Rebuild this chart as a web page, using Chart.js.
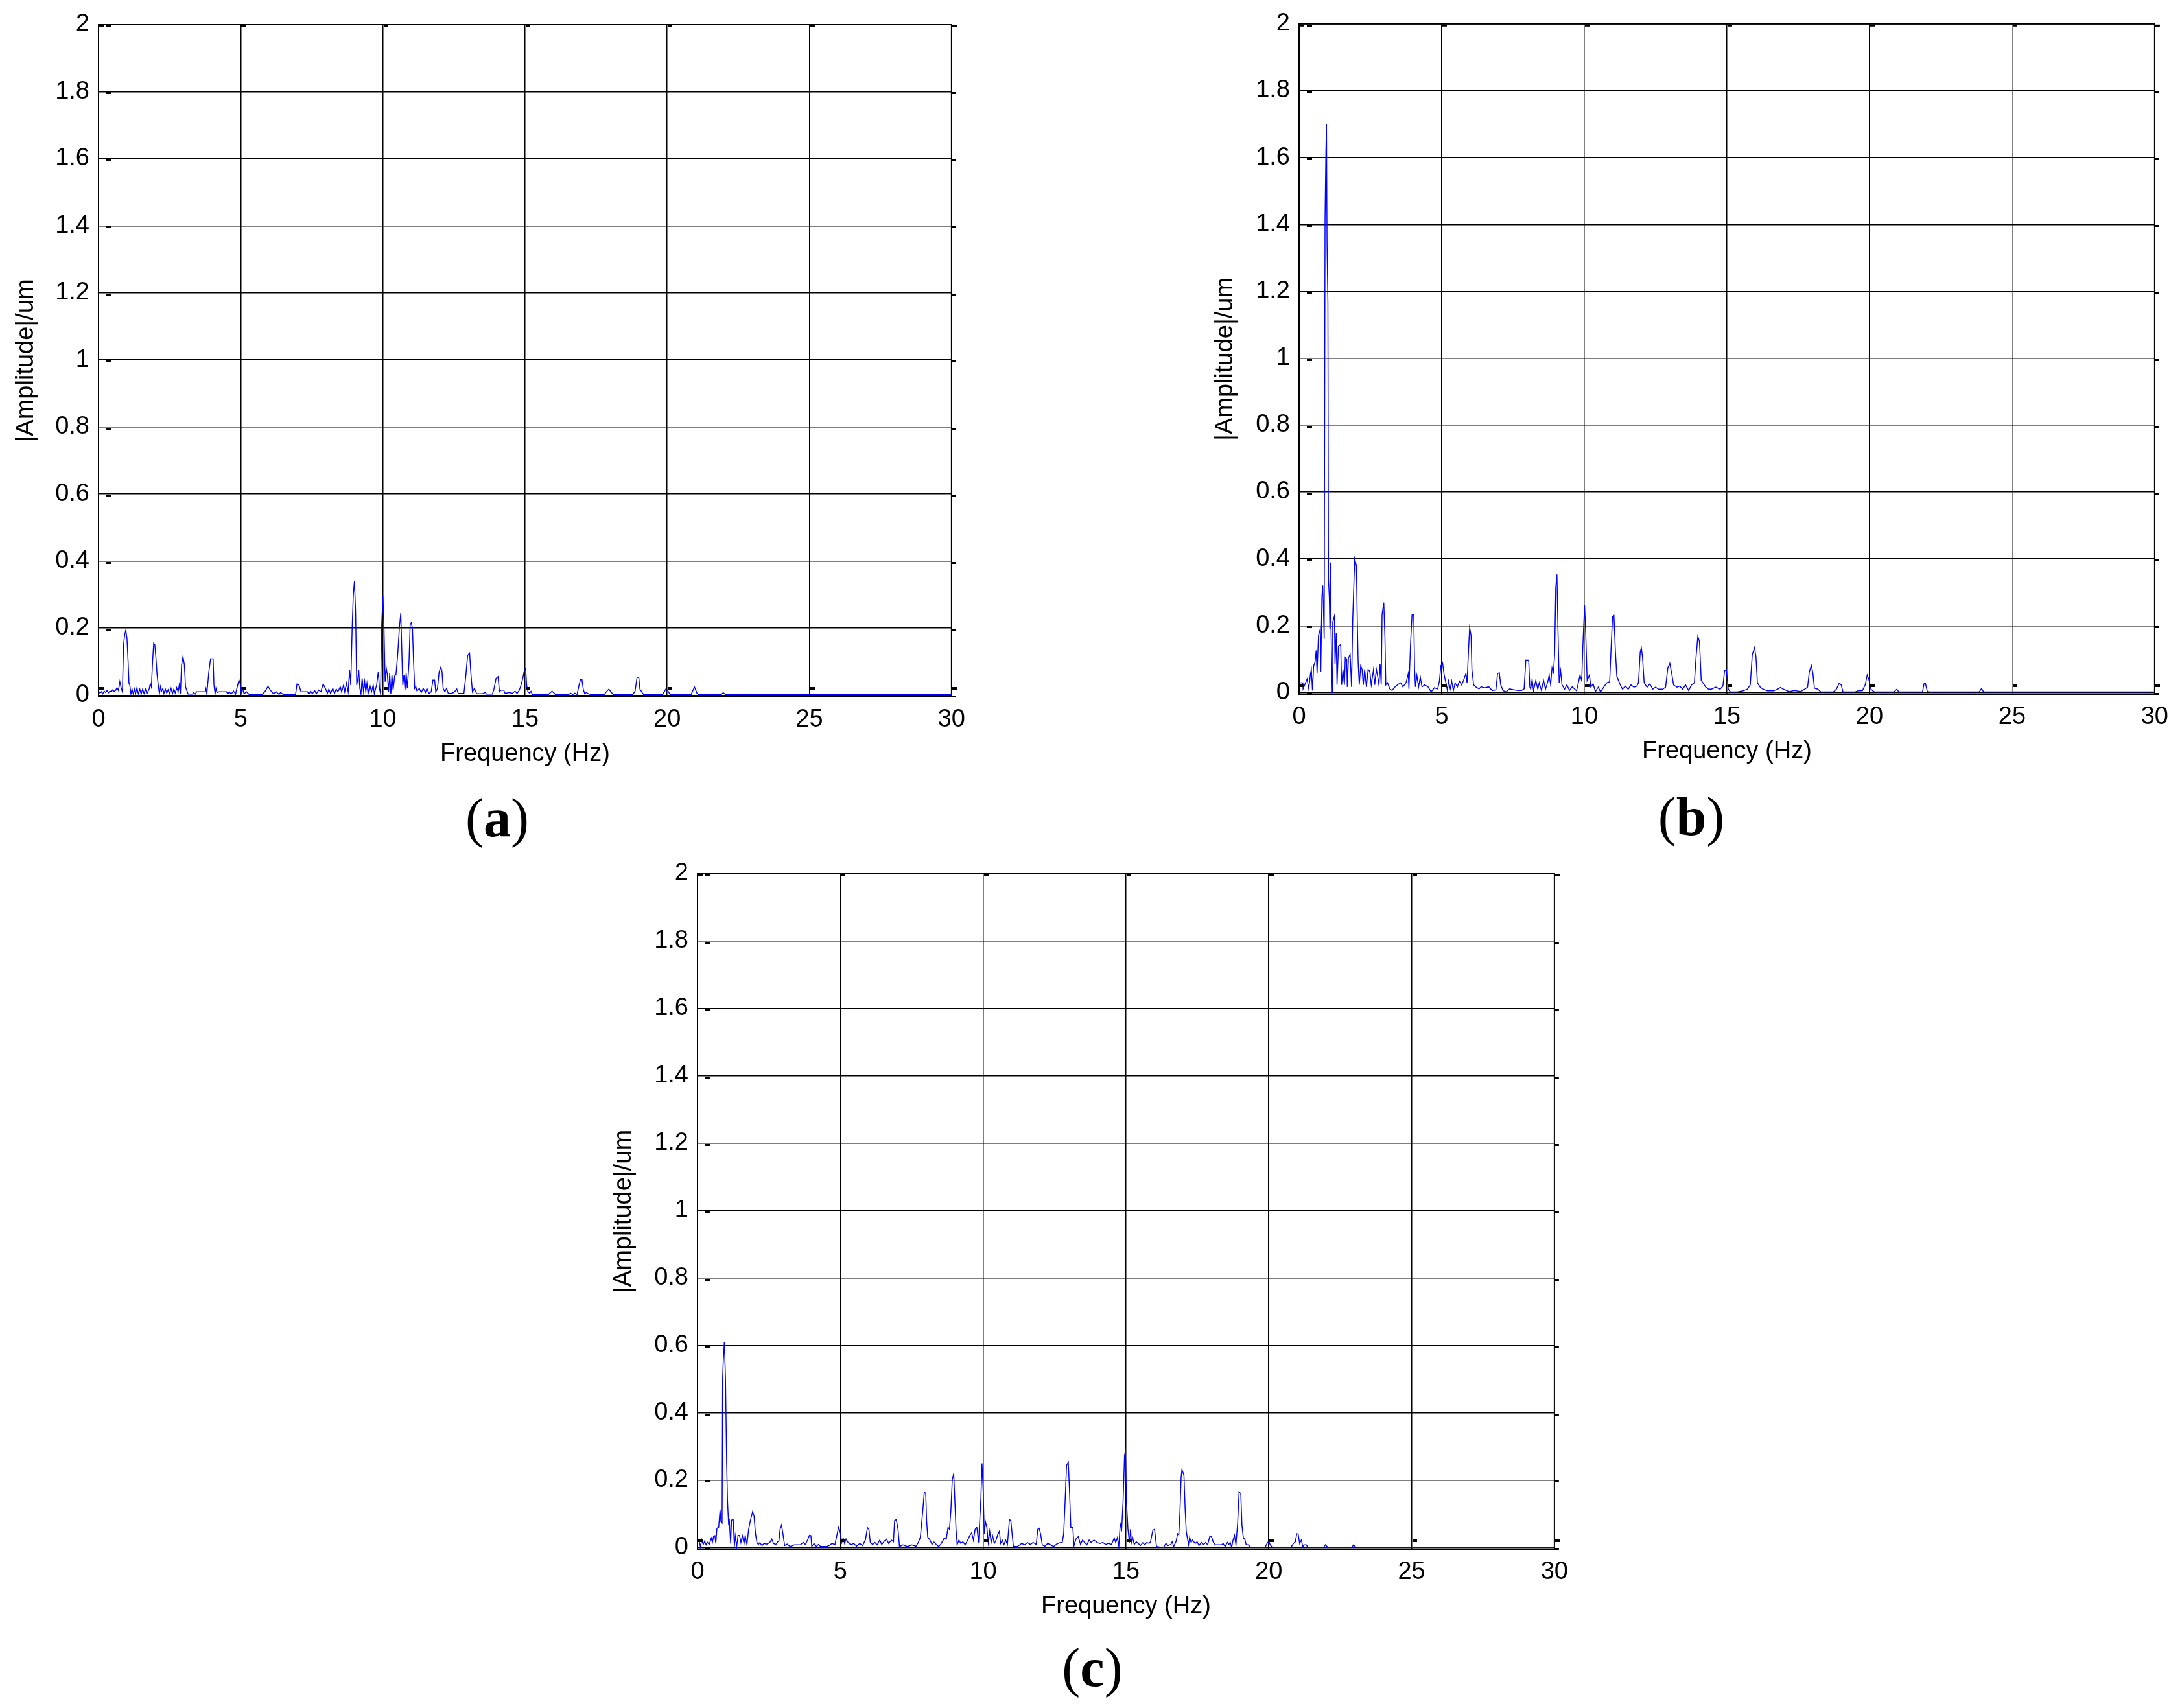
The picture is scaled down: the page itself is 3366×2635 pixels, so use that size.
<!DOCTYPE html>
<html>
<head>
<meta charset="utf-8">
<script src="https://cdn.jsdelivr.net/npm/chart.js@4.4.1/dist/chart.umd.min.js"></script>
<style>
  html, body { margin: 0; padding: 0; background: #fff; }
  body { width: 3366px; height: 2635px; position: relative; overflow: hidden; }
  canvas { position: absolute; }
  .tag { position: absolute; font-family: 'Liberation Serif', 'DejaVu Serif', serif; font-size: 84px; line-height: 1; color: #000; transform: translate(-50%, -50%); white-space: nowrap; }
  .tag b { font-weight: bold; }
</style>
</head>
<body>
<canvas id="chartA" width="1502" height="1215" style="left:0px;top:0px"></canvas>
<canvas id="chartB" width="1506" height="1211" style="left:1852px;top:0px"></canvas>
<canvas id="chartC" width="1508" height="1230" style="left:924px;top:1300px"></canvas>
<div class="tag" style="left:767px;top:1262px">(<b>a</b>)</div>
<div class="tag" style="left:2609px;top:1260px">(<b>b</b>)</div>
<div class="tag" style="left:1685px;top:2573px">(<b>c</b>)</div>
<script>
// axis ticks
var xTicks = [0, 5, 10, 15, 20, 25, 30];
var yTicks = [0, 0.2, 0.4, 0.6, 0.8, 1, 1.2, 1.4, 1.6, 1.8, 2];
var yTickLabels = ['0', '0.2', '0.4', '0.6', '0.8', '1', '1.2', '1.4', '1.6', '1.8', '2'];

// (a) spectrum
var freqA = [0, 0.05, 0.1, 0.15, 0.2, 0.25, 0.3, 0.35, 0.4, 0.45, 0.5, 0.55, 0.6, 0.65, 0.7, 0.75, 0.8, 0.84, 0.88, 0.92,
  0.96, 1, 1.04, 1.07, 1.1, 1.14, 1.18, 1.22, 1.27, 1.3, 1.35, 1.4, 1.45, 1.5, 1.55, 1.6, 1.65, 1.7, 1.78, 1.82,
  1.86, 1.9, 1.94, 1.98, 2.02, 2.06, 2.1, 2.14, 2.18, 2.22, 2.26, 2.3, 2.35, 2.4, 2.45, 2.5, 2.55, 2.6, 2.65, 2.7,
  2.75, 2.8, 2.84, 2.88, 2.92, 2.97, 3.02, 3.06, 3.1, 3.15, 3.3, 3.34, 3.4, 3.45, 3.75, 3.78, 3.81, 3.88, 3.94, 4.03,
  4.06, 4.1, 4.13, 4.17, 4.24, 4.5, 4.55, 4.6, 4.66, 4.75, 4.82, 4.88, 4.94, 4.98, 5.02, 5.06, 5.12, 5.2, 5.3, 5.75,
  5.85, 5.96, 6.05, 6.15, 6.25, 6.35, 6.4, 6.5, 6.93, 6.98, 7.05, 7.12, 7.35, 7.4, 7.46, 7.52, 7.6, 7.66, 7.74, 7.82,
  7.9, 7.98, 8.05, 8.1, 8.16, 8.24, 8.3, 8.36, 8.42, 8.5, 8.55, 8.62, 8.66, 8.72, 8.78, 8.83, 8.87, 8.92, 8.96, 9,
  9.04, 9.08, 9.12, 9.15, 9.19, 9.23, 9.27, 9.32, 9.36, 9.4, 9.44, 9.48, 9.54, 9.6, 9.66, 9.7, 9.78, 9.84, 9.88, 9.92,
  9.96, 10, 10.04, 10.08, 10.12, 10.16, 10.2, 10.24, 10.28, 10.32, 10.36, 10.42, 10.46, 10.52, 10.58, 10.63, 10.67, 10.7, 10.74, 10.78,
  10.82, 10.86, 10.92, 10.96, 11, 11.04, 11.08, 11.12, 11.16, 11.2, 11.28, 11.35, 11.42, 11.5, 11.55, 11.62, 11.7, 11.76, 11.82, 11.86,
  11.92, 11.98, 12.04, 12.08, 12.12, 12.18, 12.24, 12.3, 12.4, 12.5, 12.6, 12.65, 12.85, 12.92, 12.98, 13.05, 13.1, 13.15, 13.22, 13.3,
  13.5, 13.6, 13.65, 13.85, 13.9, 13.98, 14.05, 14.1, 14.15, 14.25, 14.3, 14.45, 14.55, 14.65, 14.72, 14.8, 14.86, 14.92, 14.98, 15.02,
  15.06, 15.1, 15.16, 15.21, 15.26, 15.82, 15.95, 16.07, 16.53, 16.6, 16.68, 16.75, 16.83, 16.9, 16.95, 17, 17.05, 17.1, 17.16, 17.22,
  17.32, 17.79, 17.84, 17.95, 18, 18.1, 18.79, 18.87, 18.94, 19, 19.04, 19.14, 19.17, 19.84, 19.95, 20.03, 20.1, 20.84, 20.96, 21.05,
  21.09, 21.9, 21.97, 22.05, 30];
var ampA = [0.012, 0.006, 0.01, 0.004, 0.012, 0.008, 0.014, 0.007, 0.012, 0.01, 0.016, 0.011, 0.014, 0.022, 0.014, 0.04, 0.02, 0.01, 0.15, 0.18,
  0.194, 0.17, 0.1, 0.035, 0.03, 0.004, 0.018, 0.004, 0.018, 0.003, 0.022, 0.004, 0.018, 0.003, 0.018, 0.005, 0.018, 0.004, 0.018, 0.034,
  0.024, 0.1, 0.155, 0.15, 0.11, 0.06, 0.03, 0.004, 0.025, 0.012, 0.02, 0.005, 0.018, 0.006, 0.016, 0.005, 0.02, 0.004, 0.018, 0.006,
  0.022, 0.01, 0.03, 0.004, 0.09, 0.115, 0.09, 0.025, 0.015, 0.003, 0.003, 0.008, 0.003, 0.01, 0.01, 0.02, 0.004, 0.07, 0.108, 0.108,
  0.03, 0.004, 0.02, 0.008, 0.01, 0.01, 0.004, 0.01, 0.003, 0.012, 0.003, 0.025, 0.045, 0.035, 0.008, 0.02, 0.004, 0.01, 0.002, 0.002,
  0.01, 0.026, 0.014, 0.004, 0.01, 0.002, 0.008, 0.002, 0.002, 0.033, 0.03, 0.01, 0.01, 0.003, 0.012, 0.004, 0.014, 0.004, 0.015, 0.01,
  0.033, 0.02, 0.005, 0.018, 0.005, 0.02, 0.005, 0.018, 0.01, 0.025, 0.01, 0.03, 0.01, 0.035, 0.01, 0.075, 0.03, 0.2, 0.3, 0.34,
  0.25, 0.03, 0.05, 0.075, 0.02, 0.004, 0.05, 0.01, 0.04, 0.01, 0.035, 0.004, 0.03, 0.01, 0.03, 0.004, 0.03, 0.07, 0.02, 0.004,
  0.21, 0.295, 0.2, 0.04, 0.08, 0.06, 0.01, 0.065, 0.004, 0.06, 0.015, 0.06, 0.06, 0.12, 0.2, 0.245, 0.12, 0.03, 0.06, 0.015,
  0.065, 0.02, 0.1, 0.21, 0.216, 0.2, 0.1, 0.02, 0.025, 0.012, 0.02, 0.008, 0.02, 0.008, 0.02, 0.005, 0.01, 0.045, 0.045, 0.01,
  0.02, 0.07, 0.084, 0.07, 0.02, 0.01, 0.02, 0.005, 0.005, 0.008, 0.018, 0.005, 0.005, 0.06, 0.118, 0.125, 0.06, 0.01, 0.02, 0.004,
  0.004, 0.008, 0.003, 0.003, 0.015, 0.05, 0.055, 0.01, 0.015, 0.015, 0.005, 0.008, 0.005, 0.012, 0.005, 0.015, 0.03, 0.05, 0.075, 0.08,
  0.027, 0.011, 0.006, 0.011, 0.002, 0.002, 0.012, 0.002, 0.002, 0.006, 0.002, 0.006, 0.002, 0.03, 0.047, 0.047, 0.017, 0.004, 0.008, 0.004,
  0.002, 0.002, 0.008, 0.018, 0.012, 0.002, 0.002, 0.012, 0.053, 0.053, 0.018, 0.005, 0.002, 0.002, 0.018, 0.012, 0.002, 0.002, 0.024, 0.005,
  0.002, 0.002, 0.007, 0.002, 0.002];

// (b) spectrum
var freqB = [0, 0.13, 0.14, 0.28, 0.34, 0.4, 0.43, 0.47, 0.51, 0.56, 0.6, 0.63, 0.68, 0.74, 0.76, 0.8, 0.83, 0.86, 0.88, 0.91,
  0.94, 0.96, 0.98, 1.01, 1.03, 1.06, 1.08, 1.1, 1.12, 1.16, 1.18, 1.24, 1.26, 1.3, 1.33, 1.38, 1.46, 1.49, 1.54, 1.59,
  1.62, 1.67, 1.69, 1.73, 1.79, 1.84, 1.88, 1.91, 1.95, 2.01, 2.04, 2.07, 2.11, 2.16, 2.21, 2.25, 2.3, 2.36, 2.42, 2.48,
  2.53, 2.61, 2.65, 2.71, 2.76, 2.8, 2.84, 2.88, 2.91, 2.97, 3.01, 3.04, 3.1, 3.18, 3.26, 3.33, 3.45, 3.56, 3.64, 3.75,
  3.83, 3.85, 3.91, 3.96, 4.02, 4.05, 4.08, 4.13, 4.19, 4.25, 4.31, 4.4, 4.52, 4.63, 4.74, 4.86, 4.92, 4.97, 5.03, 5.09,
  5.15, 5.2, 5.24, 5.3, 5.35, 5.41, 5.47, 5.55, 5.62, 5.7, 5.77, 5.85, 5.89, 5.94, 5.98, 6.03, 6.06, 6.12, 6.19, 6.31,
  6.38, 6.5, 6.65, 6.77, 6.9, 6.96, 7.02, 7.07, 7.15, 7.26, 7.38, 7.53, 7.68, 7.8, 7.89, 7.95, 8.05, 8.09, 8.12, 8.17,
  8.22, 8.3, 8.37, 8.42, 8.5, 8.57, 8.64, 8.72, 8.77, 8.82, 8.87, 8.92, 8.96, 9, 9.04, 9.08, 9.12, 9.17, 9.22, 9.31,
  9.39, 9.48, 9.58, 9.73, 9.85, 9.91, 9.95, 10.01, 10.05, 10.1, 10.18, 10.23, 10.31, 10.39, 10.49, 10.57, 10.68, 10.79, 10.89, 10.94,
  10.99, 11.04, 11.09, 11.14, 11.2, 11.26, 11.34, 11.44, 11.54, 11.64, 11.74, 11.84, 11.9, 11.96, 12, 12.04, 12.1, 12.2, 12.3, 12.4,
  12.5, 12.6, 12.75, 12.85, 12.93, 13, 13.07, 13.13, 13.25, 13.35, 13.45, 13.55, 13.66, 13.76, 13.86, 13.92, 13.98, 14.04, 14.1, 14.16,
  14.26, 14.36, 14.46, 14.61, 14.76, 14.86, 14.92, 14.98, 15.05, 15.12, 15.37, 15.57, 15.72, 15.82, 15.89, 15.97, 16.02, 16.07, 16.17, 16.27,
  16.42, 16.63, 16.78, 16.88, 16.98, 17.18, 17.38, 17.58, 17.73, 17.83, 17.89, 17.96, 18.01, 18.07, 18.19, 18.29, 18.74, 18.84, 18.94, 19.01,
  19.07, 19.5, 19.6, 19.75, 19.85, 19.92, 19.98, 20.05, 20.15, 20.2, 20.86, 20.96, 21.03, 21.86, 21.91, 21.96, 22.03, 22.11, 23.85, 23.93,
  24, 30];
var ampB = [0.029, 0.029, 0.011, 0.04, 0.011, 0.057, 0.069, 0.006, 0.08, 0.091, 0.126, 0.057, 0.171, 0.189, 0.063, 0.286, 0.32, 0.229, 0.16, 1.417,
  1.617, 1.7, 1.343, 1.166, 0.337, 0.286, 0.189, 0.389, 0.189, 0, 0.211, 0.229, 0.086, 0.177, 0.023, 0.139, 0.143, 0.023, 0.069, 0.023,
  0.105, 0.1, 0.017, 0.103, 0.114, 0.017, 0.217, 0.297, 0.4, 0.379, 0.217, 0.091, 0.023, 0.08, 0.069, 0.023, 0.069, 0.017, 0.069, 0.063,
  0.023, 0.069, 0.023, 0.069, 0.046, 0.023, 0.086, 0.023, 0.234, 0.269, 0.166, 0.023, 0.029, 0.011, 0.006, 0.014, 0.023, 0.029, 0.017, 0.029,
  0.057, 0.011, 0.149, 0.232, 0.234, 0.069, 0.017, 0.051, 0.017, 0.046, 0.017, 0.023, 0.017, 0.002, 0.014, 0.011, 0.034, 0.08, 0.089, 0.051,
  0.029, 0.006, 0.034, 0.011, 0.034, 0.006, 0.029, 0.017, 0.034, 0.023, 0.037, 0.057, 0.029, 0.126, 0.194, 0.171, 0.069, 0.023, 0.017, 0.011,
  0.017, 0.014, 0.017, 0.006, 0.008, 0.057, 0.059, 0.023, 0.006, 0.002, 0.011, 0.008, 0.006, 0.006, 0.011, 0.097, 0.097, 0.017, 0.01, 0.039,
  0.006, 0.036, 0.01, 0.029, 0.006, 0.037, 0.01, 0.032, 0.052, 0.023, 0.074, 0.061, 0.113, 0.314, 0.353, 0.178, 0.029, 0.065, 0.023, 0.01,
  0.023, 0.006, 0.017, 0.005, 0.052, 0.036, 0.139, 0.262, 0.178, 0.036, 0.052, 0.016, 0.026, 0.003, 0.016, 0.002, 0.016, 0.029, 0.032, 0.133,
  0.226, 0.23, 0.126, 0.049, 0.036, 0.023, 0.01, 0.019, 0.01, 0.023, 0.016, 0.019, 0.029, 0.12, 0.134, 0.107, 0.029, 0.016, 0.026, 0.01,
  0.016, 0.01, 0.01, 0.016, 0.074, 0.087, 0.055, 0.023, 0.016, 0.019, 0.01, 0.023, 0.006, 0.023, 0.029, 0.107, 0.168, 0.152, 0.036, 0.029,
  0.016, 0.01, 0.01, 0.016, 0.01, 0.019, 0.065, 0.069, 0.01, 0.002, 0.002, 0.005, 0.01, 0.023, 0.113, 0.134, 0.107, 0.029, 0.016, 0.01,
  0.005, 0.005, 0.01, 0.015, 0.01, 0.003, 0.006, 0.003, 0.01, 0.016, 0.061, 0.081, 0.061, 0.013, 0.01, 0.002, 0.002, 0.01, 0.028, 0.023,
  0.002, 0.002, 0.005, 0.005, 0.023, 0.052, 0.039, 0.01, 0.003, 0.002, 0.002, 0.01, 0.002, 0.002, 0.026, 0.028, 0.003, 0.002, 0.002, 0.012,
  0.002, 0.002];

// (c) spectrum
var freqC = [0, 0.05, 0.1, 0.15, 0.2, 0.25, 0.3, 0.35, 0.41, 0.48, 0.52, 0.56, 0.61, 0.64, 0.68, 0.74, 0.79, 0.82, 0.86, 0.88,
  0.9, 0.94, 0.98, 1.02, 1.05, 1.09, 1.11, 1.16, 1.19, 1.25, 1.29, 1.32, 1.37, 1.42, 1.47, 1.52, 1.57, 1.63, 1.67, 1.73,
  1.79, 1.85, 1.89, 1.93, 1.98, 2.03, 2.08, 2.13, 2.18, 2.26, 2.33, 2.43, 2.53, 2.6, 2.66, 2.74, 2.81, 2.85, 2.89, 2.94,
  2.99, 3.05, 3.14, 3.24, 3.39, 3.6, 3.7, 3.78, 3.85, 3.92, 3.97, 4, 4.08, 4.16, 4.23, 4.31, 4.51, 4.61, 4.71, 4.81,
  4.89, 4.94, 5, 5.05, 5.1, 5.15, 5.2, 5.27, 5.37, 5.47, 5.57, 5.68, 5.78, 5.88, 5.95, 6, 6.05, 6.13, 6.21, 6.29,
  6.38, 6.45, 6.54, 6.62, 6.69, 6.79, 6.86, 6.9, 6.96, 7.02, 7.07, 7.19, 7.35, 7.5, 7.65, 7.73, 7.8, 7.87, 7.94, 7.99,
  8.02, 8.06, 8.14, 8.21, 8.28, 8.36, 8.44, 8.51, 8.58, 8.64, 8.71, 8.77, 8.82, 8.87, 8.92, 8.97, 9.01, 9.05, 9.09, 9.15,
  9.22, 9.29, 9.37, 9.46, 9.53, 9.6, 9.66, 9.72, 9.78, 9.84, 9.88, 9.92, 9.96, 10, 10.04, 10.08, 10.13, 10.18, 10.23, 10.28,
  10.33, 10.39, 10.45, 10.51, 10.57, 10.61, 10.67, 10.73, 10.79, 10.85, 10.92, 10.97, 11.02, 11.06, 11.2, 11.35, 11.45, 11.55, 11.65, 11.75,
  11.86, 11.91, 11.96, 12.01, 12.07, 12.16, 12.26, 12.36, 12.47, 12.57, 12.67, 12.77, 12.82, 12.87, 12.92, 12.98, 13.02, 13.07, 13.14, 13.18,
  13.25, 13.33, 13.41, 13.48, 13.55, 13.63, 13.71, 13.78, 13.88, 13.99, 14.09, 14.19, 14.29, 14.39, 14.49, 14.59, 14.64, 14.7, 14.75, 14.8,
  14.85, 14.9, 14.95, 14.98, 15.02, 15.07, 15.12, 15.16, 15.19, 15.23, 15.29, 15.36, 15.43, 15.51, 15.59, 15.66, 15.73, 15.81, 15.86, 15.94,
  16, 16.07, 16.22, 16.32, 16.4, 16.47, 16.57, 16.62, 16.67, 16.75, 16.81, 16.85, 16.89, 16.93, 16.96, 17.03, 17.07, 17.11, 17.15, 17.19,
  17.23, 17.28, 17.33, 17.42, 17.49, 17.56, 17.64, 17.72, 17.79, 17.86, 17.94, 18, 18.06, 18.13, 18.35, 18.4, 18.47, 18.55, 18.6, 18.65,
  18.7, 18.75, 18.8, 18.85, 18.91, 18.96, 19.02, 19.06, 19.11, 19.16, 19.21, 19.28, 19.36, 19.87, 19.94, 20, 20.05, 20.12, 20.78, 20.86,
  20.93, 20.98, 21.03, 21.08, 21.14, 21.19, 21.24, 21.31, 21.37, 21.92, 21.98, 22.06, 22.91, 22.97, 23.05, 30];
var ampC = [0.025, 0.022, 0.003, 0.023, 0.009, 0.019, 0.008, 0.015, 0.009, 0.028, 0.015, 0.032, 0.035, 0.012, 0.057, 0.06, 0.112, 0.077, 0.073, 0.5,
  0.55, 0.61, 0.5, 0.25, 0.138, 0.067, 0.086, 0.012, 0.081, 0.083, 0.003, 0.035, 0.003, 0.036, 0.036, 0.015, 0.035, 0.012, 0.035, 0.009,
  0.054, 0.08, 0.093, 0.107, 0.093, 0.041, 0.015, 0.009, 0.014, 0.006, 0.012, 0.01, 0.015, 0.025, 0.012, 0.009, 0.017, 0.019, 0.054, 0.066,
  0.041, 0.006, 0.01, 0.003, 0.008, 0.008, 0.015, 0.009, 0.022, 0.036, 0.035, 0.003, 0.012, 0.003, 0.009, 0.003, 0.003, 0.006, 0.012, 0.008,
  0.041, 0.06, 0.044, 0.015, 0.028, 0.012, 0.025, 0.015, 0.008, 0.012, 0.004, 0.012, 0.006, 0.023, 0.059, 0.054, 0.015, 0.009, 0.015, 0.008,
  0.022, 0.009, 0.019, 0.025, 0.012, 0.022, 0.017, 0.08, 0.083, 0.054, 0.003, 0.008, 0.003, 0.008, 0.004, 0.015, 0.03, 0.093, 0.165, 0.16,
  0.08, 0.031, 0.022, 0.009, 0.016, 0.009, 0.003, 0.009, 0.019, 0.028, 0.025, 0.06, 0.054, 0.109, 0.202, 0.219, 0.138, 0.054, 0.008, 0.022,
  0.012, 0.017, 0.008, 0.022, 0.035, 0.044, 0.022, 0.054, 0.06, 0.015, 0.08, 0.144, 0.25, 0.17, 0.041, 0.077, 0.06, 0.015, 0.048, 0.015,
  0.035, 0.012, 0.022, 0.038, 0.048, 0.012, 0.022, 0.009, 0.022, 0.009, 0.083, 0.08, 0.035, 0.003, 0.003, 0.012, 0.008, 0.015, 0.009, 0.015,
  0.009, 0.054, 0.057, 0.041, 0.008, 0.004, 0.012, 0.008, 0.003, 0.01, 0.014, 0.015, 0.041, 0.138, 0.244, 0.253, 0.176, 0.06, 0.06, 0.006,
  0.025, 0.032, 0.009, 0.022, 0.015, 0.008, 0.022, 0.015, 0.022, 0.015, 0.012, 0.015, 0.009, 0.012, 0.009, 0.028, 0.015, 0.029, 0.003, 0.07,
  0.054, 0.138, 0.273, 0.286, 0.131, 0.054, 0.015, 0.054, 0.015, 0.03, 0.009, 0.017, 0.012, 0.006, 0.014, 0.008, 0.015, 0.012, 0.017, 0.051,
  0.054, 0.003, 0.001, 0.001, 0.012, 0.006, 0.009, 0.017, 0.003, 0.017, 0.041, 0.038, 0.105, 0.208, 0.231, 0.215, 0.118, 0.048, 0.028, 0.009,
  0.031, 0.015, 0.022, 0.012, 0.017, 0.006, 0.015, 0.009, 0.015, 0.008, 0.035, 0.031, 0.015, 0.008, 0.008, 0.012, 0.003, 0.015, 0.009, 0.015,
  0.001, 0.022, 0.036, 0.008, 0.073, 0.165, 0.16, 0.067, 0.028, 0.025, 0.008, 0.008, 0.001, 0.001, 0.012, 0.019, 0.008, 0.001, 0.001, 0.012,
  0.017, 0.041, 0.04, 0.012, 0.022, 0.003, 0.008, 0.008, 0.001, 0.001, 0.008, 0.001, 0.001, 0.008, 0.001, 0.001];

var FONT = "'Liberation Sans', Arial, sans-serif";

// box round the plot and the small MATLAB style tick marks
var frameTicks = {
    id: 'frameTicks',
    afterDraw: function(chart) {
        var ctx = chart.ctx;
        var a = chart.chartArea;
        var xs = chart.scales.x, ys = chart.scales.y;
        ctx.save();
        ctx.strokeStyle = '#000';
        ctx.lineWidth = 2;
        ctx.strokeRect(a.left, a.top, a.right - a.left, a.bottom - a.top);
        ctx.fillStyle = '#000';
        xTicks.forEach(function(v) {
            var px = Math.round(xs.getPixelForValue(v));
            ctx.fillRect(px + 1, a.bottom - 15, 7, 4);
            ctx.fillRect(px + 1, a.top + 1, 7, 3);
        });
        yTicks.forEach(function(v) {
            var py = Math.round(ys.getPixelForValue(v));
            ctx.fillRect(a.left + 12, py + 1, 8, 3);
            ctx.fillRect(a.right, py + 1, 7, 3);
        });
        ctx.restore();
    }
};

function makePanel(id, freq, amp, padTop, yTitlePad) {
    var ctx = document.getElementById(id).getContext('2d');
    return new Chart(ctx, {
        type: 'line',
        data: {
            datasets: [{
                data: freq.map(function(f, i) { return { x: f, y: amp[i] }; }),
                borderColor: '#0000ff',
                borderWidth: 1.5,
                pointRadius: 0,
                tension: 0,
                fill: false
            }]
        },
        options: {
            responsive: false,
            animation: false,
            devicePixelRatio: 1,
            // right padding covers the half width of the "30" label plus its padding
            layout: { padding: { left: 0, top: padTop, right: 34, bottom: 0 } },
            plugins: { legend: { display: false }, tooltip: { enabled: false } },
            scales: {
                x: {
                    type: 'linear',
                    min: 0,
                    max: 30,
                    afterBuildTicks: function(scale) { scale.ticks = xTicks.map(function(v) { return { value: v }; }); },
                    afterFit: function(scale) { scale.height = 140; },
                    ticks: { color: '#000', font: { family: FONT, size: 38 }, padding: 13, maxRotation: 0 },
                    grid: { color: '#000', lineWidth: 1.5, drawTicks: false },
                    border: { color: '#000', width: 2 },
                    title: { display: true, text: 'Frequency (Hz)', color: '#000', font: { family: FONT, size: 38 }, padding: { top: 0, bottom: 29 } }
                },
                y: {
                    type: 'linear',
                    min: -0.005,
                    max: 2,
                    afterBuildTicks: function(scale) { scale.ticks = yTicks.map(function(v) { return { value: v }; }); },
                    afterFit: function(scale) { scale.width = 152; },
                    ticks: {
                        color: '#000',
                        font: { family: FONT, size: 38 },
                        padding: 14,
                        callback: function(value, index) { return yTickLabels[index]; }
                    },
                    grid: { color: '#000', lineWidth: 1.5, drawTicks: false },
                    border: { color: '#000', width: 2 },
                    title: { display: true, text: '|Amplitude|/um', color: '#000', font: { family: FONT, size: 38 }, padding: { top: yTitlePad, bottom: 0 } }
                }
            }
        },
        plugins: [frameTicks]
    });
}

makePanel('chartA', freqA, ampA, 38, 18);
makePanel('chartB', freqB, ampB, 31, 16);
makePanel('chartC', freqC, ampC, 48, 16);
</script>
</body>
</html>
